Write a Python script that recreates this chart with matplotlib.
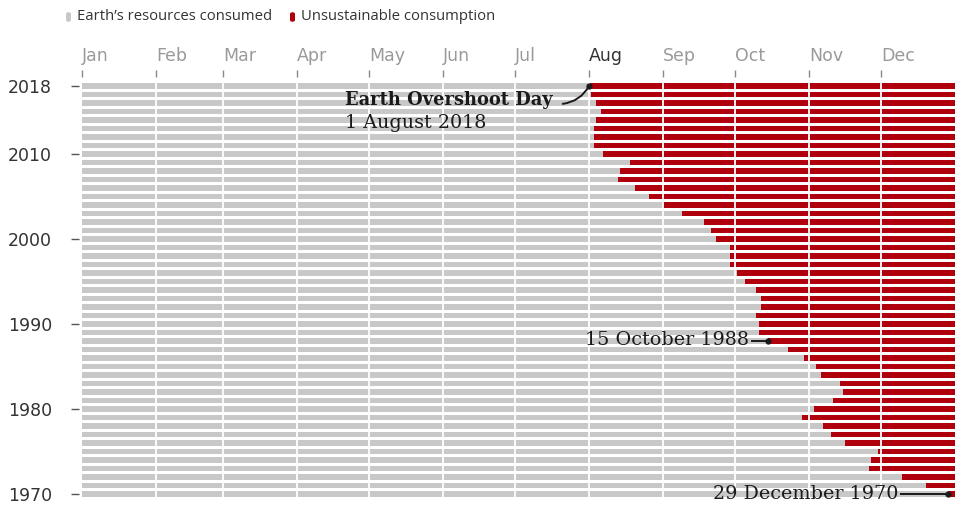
import matplotlib
matplotlib.use("Agg")
import matplotlib.pyplot as plt
from matplotlib.patches import FancyBboxPatch
import pandas as pd

years = list(range(1970, 2019))
overshoot = ["12-29", "12-20", "12-10", "11-26", "11-27", "11-30", "11-16", "11-10",
             "11-07", "10-29", "11-03", "11-11", "11-15", "11-14", "11-06", "11-04",
             "10-30", "10-23", "10-15", "10-11", "10-11", "10-10", "10-12", "10-12",
             "10-10", "10-05", "10-02", "09-29", "09-29", "09-29", "09-23", "09-21",
             "09-18", "09-09", "09-01", "08-26", "08-20", "08-13", "08-14", "08-18",
             "08-07", "08-03", "08-03", "08-03", "08-04", "08-06", "08-04", "08-02",
             "08-01"]
month_labels = ["Jan", "Feb", "Mar", "Apr", "May", "Jun", "Jul", "Aug", "Sep", "Oct", "Nov", "Dec"]
year_ticks = [1970, 1980, 1990, 2000, 2010, 2018]
legend_labels = ["Earth\u2019s resources consumed", "Unsustainable consumption"]

GREY = "#c8c8c8"
RED = "#b0000e"
DARK = "#333333"
LIGHT = "#9a9a9a"

doy = [pd.Timestamp("2017-" + s).dayofyear - 1 for s in overshoot]
month_starts = [pd.Timestamp(2017, m, 1).dayofyear - 1 for m in range(1, 13)]
YEAR_LEN = 365

W, H = 956, 505
fig = plt.figure(figsize=(W / 100, H / 100), dpi=100)
ax = fig.add_axes([82 / W, 1 - 498.25 / H, (955 - 82) / W, (498.25 - 81.75) / H])

rest = [YEAR_LEN - d for d in doy]
ax.barh(years, doy, height=0.6, color=GREY, zorder=2)
ax.barh(years, rest, left=doy, height=0.6, color=RED, zorder=2)
for m in month_starts[1:]:
    ax.axvline(m, color="white", lw=1.3, zorder=3)

ax.set_xlim(0, YEAR_LEN)
ax.set_ylim(1969.5, 2018.5)
for s in ax.spines.values():
    s.set_visible(False)

ax.xaxis.tick_top()
ax.spines["top"].set_position(("outward", 3.4))
ax.set_xticks(month_starts)
ax.set_xticklabels(month_labels, ha="left", fontsize=12.5, family="DejaVu Sans")
ax.tick_params(axis="x", length=5, width=1, color="#888888", pad=4, labelcolor=LIGHT)
for lab in ax.get_xticklabels():
    if lab.get_text() == "Aug":
        lab.set_color(DARK)

ax.spines["left"].set_position(("outward", 2.5))
ax.set_yticks(year_ticks)
ax.set_yticklabels([str(y) for y in year_ticks], fontsize=12.5, family="DejaVu Sans", color=DARK)
ax.tick_params(axis="y", length=6, width=1, color="#555555", pad=13)

# annotations
serif = "DejaVu Serif"
ax.text(110, 2016.35, "Earth Overshoot Day", fontsize=12.9, family=serif, fontweight="bold",
        color="#1a1a1a", va="center", ha="left", zorder=5)
ax.text(110, 2013.6, "1 August 2018", fontsize=13.8, family=serif, color="#1a1a1a",
        va="center", ha="left", zorder=5)
ax.annotate("", xy=(doy[-1], 2018), xytext=(201, 2015.9),
            arrowprops=dict(arrowstyle="-", color="#1a1a1a", lw=1.4,
                            connectionstyle="arc3,rad=0.25", shrinkA=0, shrinkB=0), zorder=5)
ax.plot([doy[-1]], [2018], "o", color="#1a1a1a", ms=3.5, zorder=6)

i88 = years.index(1988)
ax.text(279, 1988.15, "15 October 1988", fontsize=13.8, family=serif, color="#1a1a1a",
        va="center", ha="right", zorder=5)
ax.plot([280, doy[i88]], [1988, 1988], color="#1a1a1a", lw=1.4, zorder=5)
ax.plot([doy[i88]], [1988], "o", color="#1a1a1a", ms=3.5, zorder=6)

i70 = years.index(1970)
ax.text(341.5, 1970.05, "29 December 1970", fontsize=13.8, family=serif, color="#1a1a1a",
        va="center", ha="right", zorder=5)
ax.plot([342.5, doy[i70]], [1970, 1970], color="#1a1a1a", lw=1.4, zorder=5)
ax.plot([doy[i70]], [1970], "o", color="#1a1a1a", ms=3.5, zorder=6, clip_on=False)

# legend
for (x0, col, lab) in [(66, GREY, legend_labels[0]), (290, RED, legend_labels[1])]:
    p = FancyBboxPatch((x0 / W, 1 - 22 / H), 5 / W, 10 / H,
                       boxstyle="round,pad=0,rounding_size=0.004",
                       transform=fig.transFigure, facecolor=col, edgecolor="none")
    fig.patches.append(p)
    fig.text((x0 + 11) / W, 1 - 16 / H, lab, fontsize=10.7, family="Open Sans",
             color=DARK, va="center", ha="left")

fig.savefig("out.png", dpi=100)
